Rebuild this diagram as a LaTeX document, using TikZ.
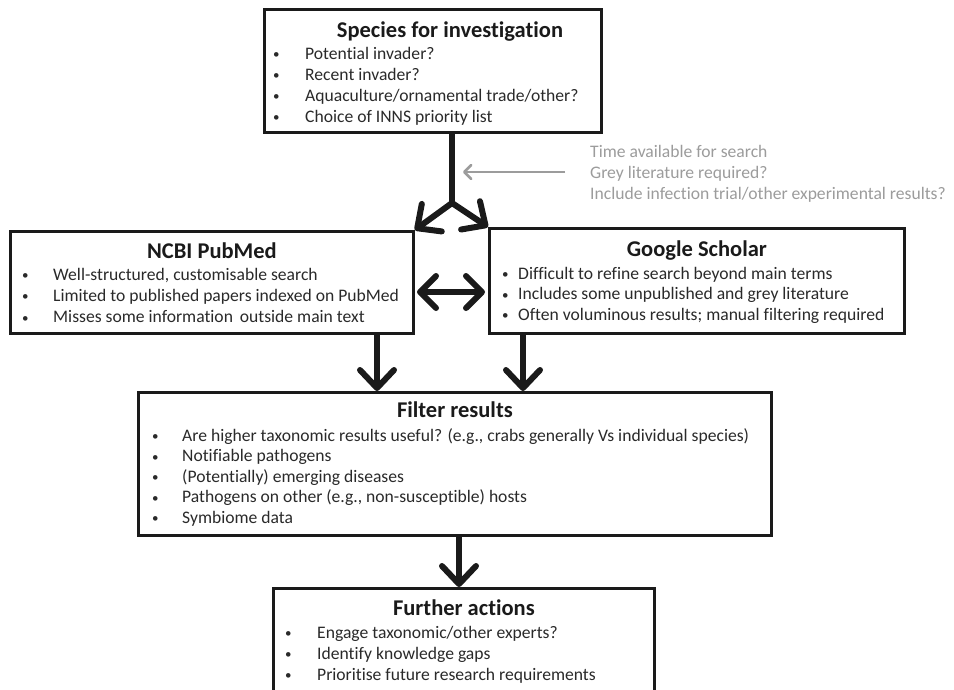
\documentclass[tikz,border=0pt]{standalone}
\usepackage{fontspec}
\setmainfont{Carlito}[Ligatures=NoCommon]
\usetikzlibrary{arrows.meta}
\definecolor{ink}{HTML}{1A1A1A}
\definecolor{bodyc}{HTML}{2A2A2A}
\definecolor{greyc}{HTML}{9C9C9C}
\newcommand\bodyf{\fontsize{17.6}{20}\selectfont}
\newcommand\titlef{\fontsize{22.5}{26}\selectfont\bfseries}
\newcommand\bt[2]{\makebox[0pt][r]{\makebox[#1][l]{\raisebox{0.5pt}{\fontsize{13}{13}\selectfont\textbullet}}}#2}
\tikzset{
  box/.style={draw=ink, line width=2.8pt, rectangle, inner sep=0pt, anchor=north west, fill=white},
  ttl/.style={anchor=base, inner sep=0pt, font=\titlef, text=ink},
  itm/.style={anchor=base west, inner sep=0pt, font=\bodyf, text=bodyc},
  gtxt/.style={anchor=base west, inner sep=0pt, font=\bodyf, text=greyc},
  bigtip/.tip={Straight Barb[length=18pt,width=34pt,round]},
  flow/.style={draw=ink, line width=6pt, -bigtip},
  shaft/.style={draw=ink, line width=6pt},
  gflow/.style={draw=greyc, line width=2.6pt, -{Straight Barb[length=7pt,width=14pt,round]}}
}
\begin{document}
\begin{tikzpicture}[x=1pt,y=-1pt]
\clip (0,0) rectangle (954,689);
\fill[white] (0,0) rectangle (954,689);
% boxes
\node[box, minimum width=337pt, minimum height=123pt] (sp) at (263,8) {};
\node[box, minimum width=403pt, minimum height=102pt] (pm) at (9,230) {};
\node[box, minimum width=415pt, minimum height=105pt] (gs) at (488,227) {};
\node[box, minimum width=633pt, minimum height=143pt] (fr) at (137,391) {};
\node[box, minimum width=381pt, minimum height=120pt] (fa) at (272,587) {};
% titles
\node[ttl] (spt) at (450,37) {Species for investigation};
\node[ttl] (pmt) at (pm.north |- 0,258) {NCBI PubMed};
\node[ttl] (gst) at (gs.north |- 0,256) {Google Scholar};
\node[ttl] (frt) at (fr.north |- 0,417) {Filter results};
\node[ttl] (fat) at (fa.north |- 0,615) {Further actions};
% species items
\foreach \t [count=\i] in {{Potential invader?},{Recent invader?},{Aquaculture/ornamental trade/other?},{Choice of INNS priority list}}
  \node[itm] (sp\i) at (305,{59+21*(\i-1)}) {\bt{32pt}{\t}};
% pubmed items
\foreach \t [count=\i] in {{Well-structured, customisable search},{Limited to published papers indexed on PubMed},{Misses some information\, outside main text}}
  \node[itm] (pm\i) at (53,{280+21.3*(\i-1)}) {\bt{31pt}{\t}};
% google items
\foreach \t [count=\i] in {{Difficult to refine search beyond main terms},{Includes some unpublished and grey literature},{Often voluminous results; manual filtering required}}
  \node[itm] (gs\i) at (518,{279+20.5*(\i-1)}) {\bt{16pt}{\t}};
% filter items
\foreach \t [count=\i] in {{Are higher taxonomic results useful? (e.g., crabs generally Vs individual species)},{Notifiable pathogens},{(Potentially) emerging diseases},{Pathogens on other (e.g., non-susceptible) hosts},{Symbiome data}}
  \node[itm] (fr\i) at (182,{441+20.6*(\i-1)}) {\bt{30pt}{\t}};
% further items
\foreach \t [count=\i] in {{Engage taxonomic/other experts?},{Identify knowledge gaps},{Prioritise future research requirements}}
  \node[itm] (fa\i) at (317,{638+21*(\i-1)}) {\bt{32pt}{\t}};
% grey notes
\foreach \t [count=\i] in {{Time available for search},{Grey literature required?},{Include infection trial/other experimental results?}}
  \node[gtxt] (gn\i) at (590,{157+21*(\i-1)}) {\t};
% connectors
\coordinate (jx) at (452,0);
\coordinate (j) at (452,203);
\draw[shaft] (sp.south -| jx) -- (j);
\draw[flow] (j) -- (pm.north east);
\draw[flow] (j) -- (gs.north west);
\coordinate (g1) at (565,172);
\coordinate (g2) at (463,172);
\draw[gflow] (g1) -- (g2);
\coordinate (dl) at (417,292);
\coordinate (dr) at (485,292);
\draw[draw=ink, line width=6pt, {Straight Barb[length=16pt,width=32pt,round]}-{Straight Barb[length=16pt,width=32pt,round]}] (dl) -- (dr);
\coordinate (a1) at (377,0);
\coordinate (a2) at (523,0);
\coordinate (a3) at (459,0);
\draw[flow] (pm.south -| a1) -- (fr.north -| a1);
\draw[flow] (gs.south -| a2) -- (fr.north -| a2);
\draw[flow] (fr.south -| a3) -- (fa.north -| a3);
\end{tikzpicture}
\end{document}
